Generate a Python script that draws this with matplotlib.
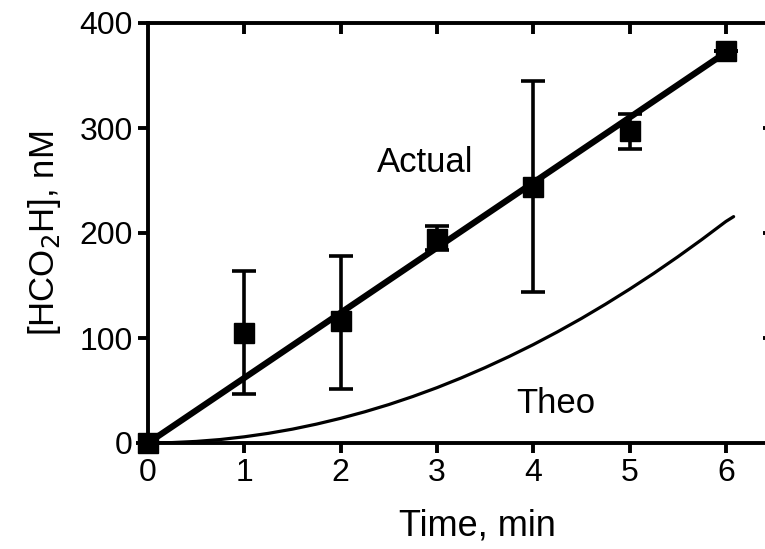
import numpy as np
import matplotlib.pyplot as plt
import matplotlib.image as mpimg

plt.rcParams['font.family'] = ['Liberation Sans', 'DejaVu Sans']

# measured formate, mean and error-bar limits
time_min = [0, 1, 2, 3, 4, 5, 6]
conc_nM = [0, 105, 116, 194, 244, 297, 373]
err_low = [0, 47, 51, 184, 144, 280, 373]
err_high = [0, 164, 178, 207, 345, 313, 373]

# linear fit through the data
fit_x = [0, 6]
fit_y = [0, 372]

# theoretical curve
theo_x = [0, 0.25, 0.5, 0.75, 1, 1.25, 1.5, 1.75, 2, 2.25, 2.5, 2.75, 3, 3.25,
          3.5, 3.75, 4, 4.25, 4.5, 4.75, 5, 5.25, 5.5, 5.75, 6, 6.08]
theo_y = [0, 0.4, 1.5, 3.3, 5.9, 9.2, 13.2, 18, 23.5, 29.7, 36.6, 44.3, 52.7, 61.9,
          71.8, 82.4, 93.7, 105.8, 118.6, 132.2, 146.5, 161.5, 177.3, 193.8, 211, 215.6]

x_ticks = [0, 1, 2, 3, 4, 5, 6]
y_ticks = [0, 100, 200, 300, 400]

fig = plt.figure(figsize=(7.65, 5.49), dpi=100)
ax = fig.add_axes([148 / 765, 106 / 549, (776 - 148) / 765, 420 / 549])

yerr = [np.array(conc_nM) - np.array(err_low), np.array(err_high) - np.array(conc_nM)]
ax.errorbar(time_min, conc_nM, yerr=yerr, fmt='none', ecolor='black',
            elinewidth=2.6, capsize=8.5, capthick=2.6, zorder=3, clip_on=False)
ax.plot(time_min, conc_nM, 's', color='black', markersize=14, zorder=4, clip_on=False)
ax.plot(fit_x, fit_y, color='black', linewidth=4.5, solid_capstyle='round', zorder=5, clip_on=False)
ax.plot(theo_x, theo_y, color='black', linewidth=2.3, solid_capstyle='round', zorder=2)

ax.text(2.88, 267, 'Actual', fontsize=25, ha='center', va='center')
ax.text(4.23, 38, 'Theo', fontsize=25, ha='center', va='center')

ax.set_xlim(0, 6.52)
ax.set_ylim(0, 400)
ax.set_xticks(x_ticks)
ax.set_yticks(y_ticks)

for s in ax.spines.values():
    s.set_linewidth(2.8)

ax.tick_params(axis='both', which='major', labelsize=23, width=2.8, length=7,
               direction='out', pad=4)

# inward ticks hanging from the top spine and off the right spine
ax.vlines(x_ticks[1:], 0.975, 1.0, transform=ax.get_xaxis_transform(),
          colors='black', linewidth=2.8, clip_on=False, zorder=6)
ax.hlines(y_ticks[1:-1], 0.979, 1.0, transform=ax.get_yaxis_transform(),
          colors='black', linewidth=2.8, clip_on=False, zorder=6)

ax.set_xlabel('Time, min', fontsize=26)
ax.xaxis.set_label_coords((477 - 148) / 628, -0.155)
ax.set_ylabel('[HCO$_2$H], nM', fontsize=25, labelpad=12)

fig.savefig('out.png', dpi=100)

# sanity check: the top tick at x=1 should be dark just under the spine
img = mpimg.imread('out.png')
if img[30, 244, 0] > 0.5:
    raise SystemExit('top tick missing: ' + str(np.round(img[15:45, 244, 0], 2).tolist()))
